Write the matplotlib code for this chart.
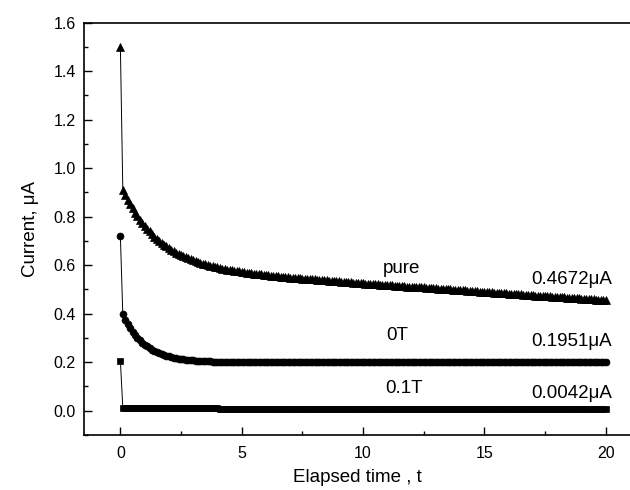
import numpy as np
import matplotlib
matplotlib.use("Agg")
import matplotlib.pyplot as plt
from matplotlib.ticker import MultipleLocator

plt.rcParams["font.family"] = ["Liberation Sans", "DejaVu Sans"]

# sampling times, 0.1 s step from 0 to 20
time_s = np.arange(201) * 0.1

current_pure = [
    1.500, 0.911, 0.889, 0.870, 0.851, 0.834, 0.817, 0.802, 0.788, 0.774, 0.762,
    0.750, 0.739, 0.728, 0.718, 0.709, 0.700, 0.692, 0.684, 0.677, 0.670,
    0.664, 0.658, 0.652, 0.646, 0.641, 0.637, 0.632, 0.628, 0.624, 0.620,
    0.616, 0.613, 0.609, 0.606, 0.603, 0.601, 0.598, 0.595, 0.593, 0.591,
    0.588, 0.586, 0.584, 0.582, 0.580, 0.579, 0.577, 0.575, 0.574, 0.572,
    0.571, 0.569, 0.568, 0.566, 0.565, 0.564, 0.563, 0.562, 0.560, 0.559,
    0.558, 0.557, 0.556, 0.555, 0.554, 0.553, 0.552, 0.551, 0.550, 0.549,
    0.548, 0.547, 0.547, 0.546, 0.545, 0.544, 0.543, 0.542, 0.541, 0.541,
    0.540, 0.539, 0.538, 0.537, 0.537, 0.536, 0.535, 0.534, 0.534, 0.533,
    0.532, 0.531, 0.531, 0.530, 0.529, 0.528, 0.528, 0.527, 0.526, 0.525,
    0.524, 0.524, 0.523, 0.522, 0.522, 0.521, 0.520, 0.519, 0.519, 0.518,
    0.517, 0.517, 0.516, 0.515, 0.515, 0.514, 0.513, 0.512, 0.512, 0.511,
    0.510, 0.510, 0.509, 0.508, 0.508, 0.507, 0.506, 0.505, 0.505, 0.504,
    0.503, 0.503, 0.502, 0.501, 0.501, 0.500, 0.499, 0.498, 0.498, 0.497,
    0.496, 0.496, 0.495, 0.494, 0.494, 0.493, 0.492, 0.491, 0.491, 0.490,
    0.489, 0.489, 0.488, 0.487, 0.487, 0.486, 0.485, 0.484, 0.484, 0.483,
    0.482, 0.482, 0.481, 0.480, 0.480, 0.479, 0.478, 0.477, 0.477, 0.476,
    0.475, 0.475, 0.474, 0.473, 0.473, 0.472, 0.471, 0.470, 0.470, 0.469,
    0.468, 0.468, 0.467, 0.466, 0.466, 0.465, 0.464, 0.463, 0.463, 0.462,
    0.461, 0.461, 0.460, 0.459, 0.459, 0.458, 0.457, 0.456, 0.456, 0.455,
]

current_0T = [
    0.720, 0.397, 0.376, 0.358, 0.341, 0.326, 0.313, 0.301, 0.290, 0.281, 0.272,
    0.265, 0.258, 0.252, 0.246, 0.242, 0.237, 0.233, 0.230, 0.227, 0.224,
    0.221, 0.219, 0.217, 0.215, 0.214, 0.212, 0.211, 0.210, 0.209, 0.208,
    0.207, 0.206, 0.206, 0.205, 0.205, 0.204, 0.204, 0.203, 0.203, 0.203,
    0.202, 0.202, 0.202, 0.202, 0.202, 0.201, 0.201, 0.201, 0.201, 0.201,
    0.201, 0.201, 0.201, 0.201, 0.201, 0.201, 0.201, 0.201, 0.201, 0.201,
    0.200, 0.200, 0.200, 0.200, 0.200, 0.200, 0.200, 0.200, 0.200, 0.200,
    0.200, 0.200, 0.200, 0.200, 0.200, 0.200, 0.200, 0.200, 0.200, 0.200,
    0.199, 0.199, 0.199, 0.199, 0.199, 0.199, 0.199, 0.199, 0.199, 0.199,
    0.199, 0.199, 0.199, 0.199, 0.199, 0.199, 0.199, 0.199, 0.199, 0.199,
    0.199, 0.199, 0.199, 0.199, 0.199, 0.199, 0.199, 0.199, 0.199, 0.199,
    0.199, 0.199, 0.199, 0.199, 0.199, 0.199, 0.199, 0.199, 0.199, 0.199,
    0.199, 0.199, 0.199, 0.199, 0.199, 0.199, 0.199, 0.199, 0.199, 0.199,
    0.199, 0.199, 0.199, 0.199, 0.199, 0.199, 0.199, 0.199, 0.199, 0.199,
    0.199, 0.199, 0.199, 0.199, 0.199, 0.199, 0.199, 0.199, 0.199, 0.199,
    0.200, 0.200, 0.200, 0.200, 0.200, 0.200, 0.200, 0.200, 0.200, 0.200,
    0.200, 0.200, 0.200, 0.200, 0.200, 0.200, 0.200, 0.200, 0.200, 0.200,
    0.200, 0.200, 0.200, 0.200, 0.200, 0.200, 0.200, 0.200, 0.200, 0.200,
    0.200, 0.200, 0.200, 0.200, 0.200, 0.200, 0.200, 0.200, 0.200, 0.200,
    0.200, 0.200, 0.200, 0.200, 0.200, 0.200, 0.200, 0.200, 0.200, 0.200,
]

current_01T = [
    0.205, 0.013, 0.012, 0.012, 0.012, 0.012, 0.011, 0.011, 0.011, 0.011, 0.011,
    0.011, 0.011, 0.011, 0.011, 0.011, 0.010, 0.010, 0.010, 0.010, 0.010,
    0.010, 0.010, 0.010, 0.010, 0.010, 0.010, 0.010, 0.010, 0.010, 0.010,
    0.010, 0.010, 0.010, 0.010, 0.010, 0.010, 0.010, 0.010, 0.010, 0.010,
    0.009, 0.009, 0.009, 0.009, 0.009, 0.009, 0.009, 0.009, 0.009, 0.009,
    0.009, 0.009, 0.009, 0.009, 0.009, 0.009, 0.009, 0.009, 0.009, 0.009,
    0.009, 0.009, 0.009, 0.009, 0.009, 0.009, 0.009, 0.009, 0.009, 0.009,
    0.009, 0.009, 0.009, 0.009, 0.009, 0.009, 0.009, 0.009, 0.009, 0.009,
    0.009, 0.009, 0.009, 0.009, 0.009, 0.009, 0.009, 0.009, 0.009, 0.009,
    0.009, 0.009, 0.009, 0.009, 0.009, 0.009, 0.009, 0.009, 0.009, 0.009,
    0.009, 0.009, 0.009, 0.009, 0.009, 0.009, 0.009, 0.009, 0.009, 0.009,
    0.009, 0.009, 0.009, 0.009, 0.009, 0.009, 0.009, 0.009, 0.009, 0.009,
    0.008, 0.008, 0.008, 0.008, 0.008, 0.008, 0.008, 0.008, 0.008, 0.008,
    0.008, 0.008, 0.008, 0.008, 0.008, 0.008, 0.008, 0.008, 0.008, 0.008,
    0.008, 0.008, 0.008, 0.008, 0.008, 0.008, 0.008, 0.008, 0.008, 0.008,
    0.008, 0.008, 0.008, 0.008, 0.008, 0.008, 0.008, 0.008, 0.008, 0.008,
    0.008, 0.008, 0.008, 0.008, 0.008, 0.008, 0.008, 0.008, 0.008, 0.008,
    0.008, 0.008, 0.008, 0.008, 0.008, 0.008, 0.008, 0.008, 0.008, 0.008,
    0.008, 0.008, 0.008, 0.008, 0.008, 0.008, 0.008, 0.008, 0.008, 0.008,
    0.008, 0.008, 0.008, 0.008, 0.008, 0.008, 0.008, 0.008, 0.008, 0.008,
]

series_labels = ["pure", "0T", "0.1T"]
final_values = ["0.4672\u03bcA", "0.1951\u03bcA", "0.0042\u03bcA"]

fig = plt.figure(figsize=(6.3, 4.9), dpi=100)
ax = fig.add_axes([0.1333, 0.1122, 0.8667, 0.8418])

ax.plot(time_s, current_pure, "k-", lw=0.7, marker="^", ms=5.5, mew=0.5, snap=False)
ax.plot(time_s, current_0T, "k-", lw=0.7, marker="o", ms=5.0, mew=0.5, snap=False)
ax.plot(time_s, current_01T, "k-", lw=0.7, marker="s", ms=4.6, mew=0.5, snap=False)

# series names and final readings
fs_note = 13.5
ax.text(11.6, 0.587, series_labels[0], fontsize=fs_note, ha="center", va="center")
ax.text(11.4, 0.312, series_labels[1], fontsize=fs_note, ha="center", va="center")
ax.text(11.7, 0.092, series_labels[2], fontsize=fs_note, ha="center", va="center")
ax.text(18.6, 0.539, final_values[0], fontsize=fs_note, ha="center", va="center")
ax.text(18.6, 0.284, final_values[1], fontsize=fs_note, ha="center", va="center")
ax.text(18.6, 0.072, final_values[2], fontsize=fs_note, ha="center", va="center")

ax.set_xlim(-1.5, 21.0)
ax.set_ylim(-0.1, 1.6)
ax.xaxis.set_major_locator(MultipleLocator(5))
ax.xaxis.set_minor_locator(MultipleLocator(2.5))
ax.yaxis.set_major_locator(MultipleLocator(0.2))
ax.yaxis.set_minor_locator(MultipleLocator(0.1))
ax.yaxis.set_major_formatter(plt.FormatStrFormatter("%.1f"))
ax.tick_params(which="major", direction="in", length=5.5, width=1.0,
               labelsize=11.5, pad=6, top=False, right=False)
ax.tick_params(which="minor", direction="in", length=3, width=1.0,
               top=False, right=False)
ax.tick_params(axis="x", pad=8)

for side in ["left", "bottom", "top"]:
    ax.spines[side].set_linewidth(1.2)
ax.spines["right"].set_visible(False)

ax.set_xlabel("Elapsed time , t", fontsize=13.5, labelpad=6)
ax.set_ylabel("Current, \u03bcA", fontsize=13.5, labelpad=10)

fig.savefig("out.png", dpi=100)
